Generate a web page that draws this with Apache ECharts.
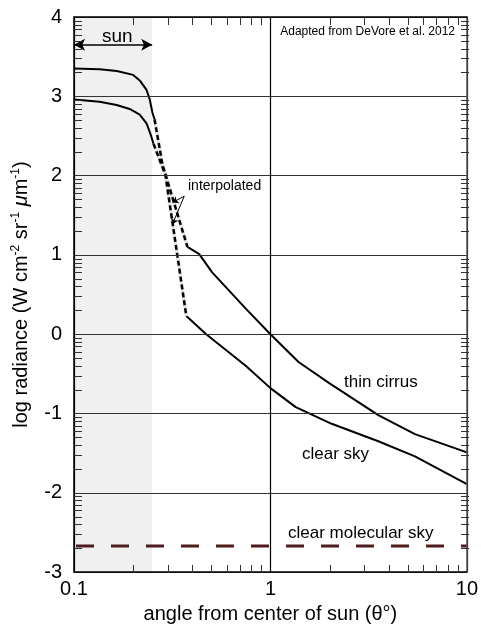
<!DOCTYPE html>
<html>
<head>
<meta charset="UTF-8">
<title>log radiance vs angle from sun</title>
<script src="https://cdn.jsdelivr.net/npm/echarts@6/dist/echarts.min.js"></script>
<style>
  html, body { margin: 0; padding: 0; background: #fff; }
  #chart { width: 481px; height: 629px; }
</style>
</head>
<body>
<div id="chart"></div>
<script>
// thin cirrus: measured part inside / near the sun, interpolated gap, measured tail
var cirrusX = [0.1, 0.135, 0.165, 0.2, 0.216, 0.234, 0.243, 0.251, 0.257];
var cirrusY = [3.35, 3.34, 3.32, 3.27, 3.20, 3.08, 2.96, 2.79, 2.71];
var cirrusGapX = [0.257, 0.282, 0.378];
var cirrusGapY = [2.71, 2.14, 1.10];
var cirrusTailX = [0.378, 0.434, 0.505, 0.751, 1.0, 1.39, 2.0, 3.54, 5.44, 10];
var cirrusTailY = [1.10, 1.01, 0.78, 0.32, 0.0, -0.35, -0.62, -1.02, -1.26, -1.49];

// clear sky
var clearX = [0.1, 0.135, 0.165, 0.192, 0.216, 0.234, 0.247, 0.254];
var clearY = [2.96, 2.93, 2.89, 2.84, 2.77, 2.66, 2.50, 2.40];
var clearGapX = [0.254, 0.292, 0.373];
var clearGapY = [2.40, 2.01, 0.23];
var clearTailX = [0.373, 0.471, 0.751, 1.0, 1.345, 2.05, 3.54, 5.44, 10];
var clearTailY = [0.23, 0.0, -0.40, -0.68, -0.92, -1.13, -1.35, -1.54, -1.89];

// clear molecular sky level
var molecularX = [0.1, 10];
var molecularY = [-2.67, -2.67];

// sun disc extent
var sunFrom = 0.1, sunTo = 0.25;

// axis ranges and minor log ticks
var xMin = 0.1, xMax = 10, yMin = -3, yMax = 4;
var decadesX = [0.1, 1];
var decadesY = [-3, -2, -1, 0, 1, 2, 3];
var minorSteps = [2, 3, 4, 5, 6, 7, 8, 9];

function pairs(xs, ys) {
  return xs.map(function (x, i) { return [x, ys[i]]; });
}

var W = 481, H = 629;
var gridBox = { left: 74, right: 12, top: 17, bottom: 56 };
var font = '"Liberation Sans", Arial, Helvetica, sans-serif';
var chart = echarts.init(document.getElementById('chart'), null, { renderer: 'canvas' });

var solid = { color: '#000', width: 2 };

chart.setOption({
  animation: false,
  backgroundColor: '#fff',
  textStyle: { fontFamily: font },
  grid: { left: gridBox.left, right: gridBox.right, top: gridBox.top, bottom: gridBox.bottom, containLabel: false },
  xAxis: [{
    type: 'log', logBase: 10, min: xMin, max: xMax, z: 10,
    name: 'angle from center of sun (θ°)', nameLocation: 'middle', nameGap: 29,
    nameTextStyle: { fontSize: 20, color: '#000', fontFamily: font },
    axisLine: { show: true, onZero: false, lineStyle: { color: '#000', width: 1.5 } },
    axisTick: { show: false },
    axisLabel: { fontSize: 20, color: '#000', margin: 7, fontFamily: font,
      formatter: function (v) { return String(+v.toPrecision(3)); } },
    splitLine: { show: true, lineStyle: { color: '#000', width: 1.2 } },
    minorTick: { show: false }
  }, {
    type: 'log', logBase: 10, min: xMin, max: xMax, position: 'top', z: 10,
    axisLine: { show: true, onZero: false, lineStyle: { color: '#000', width: 1.5 } },
    axisTick: { show: false }, axisLabel: { show: false }, splitLine: { show: false }
  }],
  yAxis: [{
    type: 'value', min: yMin, max: yMax, interval: 1, z: 10,
    name: 'log radiance (W cm{sup|-2} sr{sup|-1} {mu|μ}m{sup|-1})',
    nameLocation: 'middle', nameGap: 37, nameRotate: 90,
    nameTextStyle: {
      fontSize: 20, color: '#000', fontFamily: font, lineHeight: 24,
      rich: {
        sup: { fontSize: 12, lineHeight: 14, verticalAlign: 'top', color: '#000', fontFamily: font },
        mu: { fontSize: 20, fontStyle: 'italic', color: '#000', fontFamily: font }
      }
    },
    axisLine: { show: true, onZero: false, lineStyle: { color: '#000', width: 1.5 } },
    axisTick: { show: false },
    axisLabel: { fontSize: 20, color: '#000', margin: 12, fontFamily: font },
    splitLine: { show: true, lineStyle: { color: '#333', width: 1 } }
  }, {
    type: 'value', min: yMin, max: yMax, interval: 1, position: 'right', z: 10,
    axisLine: { show: true, onZero: false, lineStyle: { color: '#555', width: 1.5 } },
    axisTick: { show: false }, axisLabel: { show: false }, splitLine: { show: false }
  }],
  series: [
    {
      type: 'line', name: 'clear molecular sky', data: pairs(molecularX, molecularY),
      showSymbol: false, silent: true, z: 3,
      lineStyle: { color: '#4e1c1c', width: 3, type: [18, 17], dashOffset: -2 },
      markArea: {
        silent: true,
        itemStyle: { color: '#f0f0f0' },
        data: [[{ xAxis: sunFrom }, { xAxis: sunTo }]]
      }
    },
    {
      type: 'line', name: 'thin cirrus', data: pairs(cirrusX, cirrusY),
      showSymbol: false, silent: true, z: 4, lineStyle: solid,
      markLine: {
        silent: true, symbol: ['arrow', 'arrow'], symbolSize: [9, 11],
        label: { show: false },
        lineStyle: { color: '#000', width: 1.5, type: 'solid' },
        data: [[{ coord: [sunFrom, 3.65] }, { coord: [sunTo, 3.65] }]]
      }
    },
    {
      type: 'line', name: 'thin cirrus', data: pairs(cirrusTailX, cirrusTailY),
      showSymbol: false, silent: true, z: 4, lineStyle: solid
    },
    {
      type: 'line', name: 'clear sky', data: pairs(clearX, clearY),
      showSymbol: false, silent: true, z: 4, lineStyle: solid
    },
    {
      type: 'line', name: 'clear sky', data: pairs(clearTailX, clearTailY),
      showSymbol: false, silent: true, z: 4, lineStyle: solid,
      markLine: {
        silent: true, symbol: ['none', 'arrow'], symbolSize: 6,
        label: { show: false },
        lineStyle: { color: '#000', width: 1, type: 'solid' },
        data: [
          [{ coord: [0.364, 1.74] }, { coord: [0.317, 1.66] }],
          [{ coord: [0.364, 1.74] }, { coord: [0.317, 1.385] }]
        ]
      }
    },
    // interpolated segments: light underlay with black dashes on top
    {
      type: 'line', data: pairs(cirrusGapX, cirrusGapY), showSymbol: false, silent: true, z: 4,
      lineStyle: { color: '#e4e4e4', width: 3.5 }
    },
    {
      type: 'line', data: pairs(clearGapX, clearGapY), showSymbol: false, silent: true, z: 4,
      lineStyle: { color: '#e4e4e4', width: 3.5 }
    },
    {
      type: 'line', data: pairs(cirrusGapX, cirrusGapY), showSymbol: false, silent: true, z: 5,
      lineStyle: { color: '#000', width: 2.5, type: [5, 3] }
    },
    {
      type: 'line', data: pairs(clearGapX, clearGapY), showSymbol: false, silent: true, z: 5,
      lineStyle: { color: '#000', width: 2.5, type: [5, 3] }
    }
  ]
});

// annotations and minor log ticks; tick positions come from the chart's own scales
function px(x, y) { return chart.convertToPixel({ xAxisIndex: 0, yAxisIndex: 0 }, [x, y]); }
function label(id, text, size, pos) {
  return { type: 'text', id: id, z: 100, zlevel: 1, silent: true, x: pos[0], y: pos[1],
    style: { text: text, font: size + 'px ' + font, fill: '#000' } };
}
var els = [
  label('t-sun', 'sun', 19, [102, 27]),
  label('t-interp', 'interpolated', 14, [188, 179]),
  { type: 'text', id: 't-src', z: 100, zlevel: 1, silent: true, x: 455, y: 26,
    style: { text: 'Adapted from DeVore et al. 2012', font: '12px ' + font, fill: '#000', align: 'right' } },
  label('t-cirrus', 'thin cirrus', 17, [344, 374]),
  label('t-clear', 'clear sky', 17, [302, 446]),
  label('t-mol', 'clear molecular sky', 17, [288, 525])
];

var TL = 8;
var xl = gridBox.left, xr = W - gridBox.right;
var yt = gridBox.top, yb = H - gridBox.bottom;
var n = 0;
function tickRect(x, y, w, h) {
  els.push({ type: 'rect', id: 'tk' + (n++), z: 100, zlevel: 1, silent: true,
    shape: { x: x, y: y, width: w, height: h },
    style: { fill: '#333' } });
}
decadesX.forEach(function (d) {
  minorSteps.forEach(function (k) {
    var p = Math.round(px(d * k, yMin)[0]);
    tickRect(p, yb - TL, 1, TL);
    tickRect(p, yt, 1, TL);
  });
});
decadesY.forEach(function (d) {
  minorSteps.forEach(function (k) {
    var p = Math.round(px(1, d + Math.log10(k))[1]);
    tickRect(xl, p, TL, 1);
    tickRect(xr - TL, p, TL, 1);
  });
});
chart.setOption({ graphic: { elements: els } });
</script>
</body>
</html>
